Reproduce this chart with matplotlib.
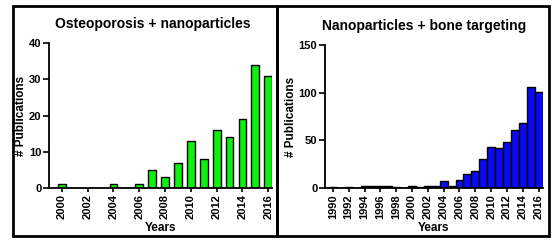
import matplotlib.pyplot as plt
from matplotlib.patches import Rectangle

plt.rcParams["font.family"] = ["Liberation Sans", "DejaVu Sans"]
plt.rcParams["font.weight"] = "bold"

# Osteoporosis + nanoparticles
years_osteo = list(range(2000, 2017))
pubs_osteo = [1, 0, 0, 0, 1, 0, 1, 5, 3, 7, 13, 8, 16, 14, 19, 34, 31]
ticks_osteo = list(range(2000, 2017, 2))

# Nanoparticles + bone targeting
years_bone = list(range(1990, 2017))
pubs_bone = [1, 0, 1, 0, 2, 2, 2, 2, 1, 0, 2, 1, 2, 2, 7, 2, 8, 15, 18, 30,
             43, 42, 48, 61, 68, 106, 101]
ticks_bone = list(range(1990, 2017, 2))


def style_axes(ax, title, ticks, yticks, ylab_x, title_x):
    ax.spines["top"].set_visible(False)
    ax.spines["right"].set_visible(False)
    ax.spines["left"].set_linewidth(1.3)
    ax.spines["bottom"].set_linewidth(1.3)
    ax.set_xticks(ticks)
    ax.set_xticklabels([str(t) for t in ticks], rotation=90, fontsize=8, fontweight="bold")
    ax.set_yticks(yticks)
    ax.set_yticklabels([str(t) for t in yticks], fontsize=8, fontweight="bold")
    ax.tick_params(axis="y", width=1.2, length=4, pad=1.5)
    ax.tick_params(axis="x", width=1.2, length=3, pad=1.5)
    ax.set_ylabel("# Publications", fontsize=8.5, fontweight="bold")
    ax.yaxis.set_label_coords(ylab_x, 0.5)
    ax.set_xlabel("Years", fontsize=8.5, fontweight="bold", labelpad=2)
    ax.set_title(title, fontsize=10, fontweight="bold", pad=11, x=title_x)


fig = plt.figure(figsize=(5.55, 2.42), dpi=100)

ax1 = fig.add_axes([0.0883, 0.223, 0.402, 0.599])
ax1.bar(years_osteo, pubs_osteo, width=0.6, color="#0ef00e", edgecolor="black", linewidth=1)
ax1.set_xlim(1999.0, 2016.3)
ax1.set_ylim(0, 40)
style_axes(ax1, "Osteoporosis + nanoparticles", ticks_osteo, [0, 10, 20, 30, 40],
           -0.10, 0.466)

ax2 = fig.add_axes([0.5856, 0.223, 0.392, 0.591])
ax2.bar(years_bone, pubs_bone, width=1.0, color="#0a0af5", edgecolor="black", linewidth=1)
ax2.set_xlim(1989.0, 2016.5)
ax2.set_ylim(0, 150)
style_axes(ax2, "Nanoparticles + bone targeting", ticks_bone, [0, 50, 100, 150],
           -0.13, 0.454)

# panel frames
fig.add_artist(Rectangle((13 / 555, 6 / 242), (277 - 13) / 555, (236 - 6) / 242,
                         transform=fig.transFigure, fill=False, edgecolor="black", linewidth=2))
fig.add_artist(Rectangle((277 / 555, 6 / 242), (549 - 277) / 555, (236 - 6) / 242,
                         transform=fig.transFigure, fill=False, edgecolor="black", linewidth=2))

fig.savefig("out.png", dpi=100)
